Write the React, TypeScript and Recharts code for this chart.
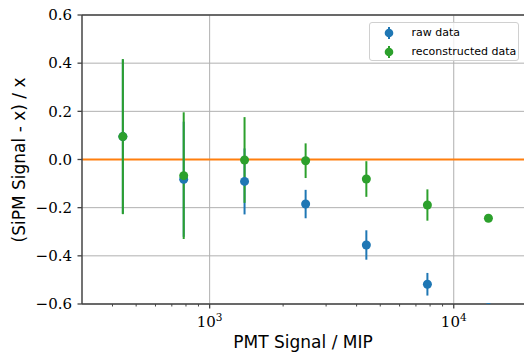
import React from 'react';
import {
  ScatterChart,
  Scatter,
  XAxis,
  YAxis,
  CartesianGrid,
  ReferenceLine,
  ErrorBar,
  Legend,
} from 'recharts';

const pmtSignal = [441, 783, 1390, 2473, 4385, 7800, 13870];
const rawValues = [0.095, -0.082, -0.091, -0.185, -0.355, -0.518, -0.615];
const rawErrors = [0.32, 0.239, 0.137, 0.059, 0.061, 0.047, 0];
const recoValues = [0.095, -0.067, -0.002, -0.005, -0.081, -0.189, -0.244];
const recoErrors = [0.322, 0.263, 0.178, 0.072, 0.074, 0.065, 0.004];

const yTicks = [-0.6, -0.4, -0.2, 0, 0.2, 0.4, 0.6];
const xMajorTicks = [1000, 10000];
const xMinorTicks = [400, 500, 600, 700, 800, 900, 2000, 3000, 4000, 5000, 6000, 7000, 8000, 9000];
const xDomain = [300, 19400];

const seriesNames = ['raw data', 'reconstructed data'];
const BLUE = '#1f77b4';
const GREEN = '#2ca02c';
const ORANGE = '#ff7f0e';
const SPINE = '#444';
const GRID = '#b0b0b0';

const rawData = pmtSignal.map((x, i) => ({ x, y: rawValues[i], err: rawErrors[i] }));
const recoData = pmtSignal.map((x, i) => ({ x, y: recoValues[i], err: recoErrors[i] }));
const allXTicks = [...xMinorTicks, ...xMajorTicks].sort((a, b) => a - b);

const XTick = (props: any) => {
  const { x, y, payload } = props;
  const v = payload.value;
  const major = xMajorTicks.includes(v);
  return (
    <g>
      <line
        x1={x}
        x2={x}
        y1={y}
        y2={y + (major ? 4.5 : 2.5)}
        stroke={SPINE}
        strokeWidth={major ? 1.3 : 1}
      />
      {major && (
        <text
          x={x}
          y={y + 22.7}
          textAnchor="middle"
          fontFamily="DejaVu Serif"
          fontSize={15}
          fill="#000"
        >
          10
          <tspan dy={-6} fontSize={10.5}>
            {Math.round(Math.log10(v))}
          </tspan>
        </text>
      )}
    </g>
  );
};

const fmtY = (v: number) => {
  const s = Math.abs(v).toFixed(1);
  return v < -1e-9 ? '\u2212' + s : s;
};

const YTick = (props: any) => {
  const { x, y, payload } = props;
  return (
    <text
      x={x}
      y={y + 5.3}
      textAnchor="end"
      fontFamily="DejaVu Serif"
      fontSize={15}
      fill="#000"
    >
      {fmtY(payload.value)}
    </text>
  );
};

const Dot = (color: string) => (props: any) => (
  <circle cx={props.cx} cy={props.cy} r={4.5} fill={color} />
);

const LegendMarker = ({ color }: { color: string }) => (
  <svg width={14} height={16} style={{ display: 'block' }}>
    <line x1={7} x2={7} y1={2} y2={14} stroke={color} strokeWidth={2} />
    <circle cx={7} cy={8} r={4.3} fill={color} />
  </svg>
);

const LegendBox = () => {
  const colors = [BLUE, GREEN];
  return (
    <div
      style={{
        width: 150,
        height: 39,
        boxSizing: 'border-box',
        border: '1px solid #d0d0d0',
        borderRadius: 3,
        background: 'rgba(255,255,255,0.8)',
        position: 'relative',
        fontFamily: 'DejaVu Sans',
        fontSize: 11,
        color: '#000',
      }}
    >
      {seriesNames.map((name, i) => (
        <div
          key={name}
          style={{
            position: 'absolute',
            left: 12,
            top: 2 + i * 18.7,
            height: 16,
            display: 'flex',
            alignItems: 'center',
            whiteSpace: 'nowrap',
          }}
        >
          <LegendMarker color={colors[i]} />
          <span style={{ marginLeft: 15.5, lineHeight: '16px' }}>{name}</span>
        </div>
      ))}
    </div>
  );
};

export default function App() {
  return (
    <div style={{ position: 'absolute', left: 0, top: 0, width: 524, height: 356, background: '#fff' }}>
      <ScatterChart width={524} height={356} margin={{ top: 15, right: 0, bottom: 0, left: 0 }}>
        <CartesianGrid vertical={false} stroke={GRID} strokeWidth={1} />
        <XAxis
          type="number"
          dataKey="x"
          scale="log"
          domain={xDomain}
          allowDataOverflow
          ticks={allXTicks}
          interval={0}
          tick={<XTick />}
          tickLine={false}
          tickSize={0}
          tickMargin={0}
          height={52}
          axisLine={{ stroke: SPINE, strokeWidth: 1.5 }}
          label={{
            content: () => (
              <text
                x={303}
                y={348}
                textAnchor="middle"
                fontFamily="DejaVu Sans"
                fontSize={17}
                fill="#000"
              >
                PMT Signal / MIP
              </text>
            ),
          }}
        />
        <YAxis
          type="number"
          dataKey="y"
          domain={[-0.6, 0.6]}
          allowDataOverflow
          ticks={yTicks}
          interval={0}
          width={82}
          tickSize={4.5}
          tickMargin={5.5}
          tick={<YTick />}
          tickLine={{ stroke: SPINE, strokeWidth: 1.3 }}
          axisLine={{ stroke: SPINE, strokeWidth: 1.5 }}
          label={{
            content: () => (
              <text
                x={24.5}
                y={160}
                transform="rotate(-90 24.5 160)"
                textAnchor="middle"
                fontFamily="DejaVu Sans"
                fontSize={17}
                fill="#000"
              >
                (SiPM Signal - x) / x
              </text>
            ),
          }}
        />
        {xMajorTicks.map((t) => (
          <ReferenceLine key={t} x={t} stroke={GRID} strokeWidth={1} />
        ))}
        <ReferenceLine y={0} stroke={ORANGE} strokeWidth={2} />
        <ReferenceLine y={0.6} stroke={SPINE} strokeWidth={1.5} />
        <Scatter
          name={seriesNames[0]}
          data={rawData}
          fill={BLUE}
          shape={Dot(BLUE)}
          isAnimationActive={false}
        >
          <ErrorBar dataKey="err" direction="y" width={0} stroke={BLUE} strokeWidth={2} />
        </Scatter>
        <Scatter
          name={seriesNames[1]}
          data={recoData}
          fill={GREEN}
          shape={Dot(GREEN)}
          isAnimationActive={false}
        >
          <ErrorBar dataKey="err" direction="y" width={0} stroke={GREEN} strokeWidth={2} />
        </Scatter>
        <Legend
          layout="vertical"
          align="center"
          verticalAlign="middle"
          content={() => <LegendBox />}
          wrapperStyle={{ position: 'absolute', left: 369, top: 22, width: 150, height: 39 }}
        />
      </ScatterChart>
    </div>
  );
}
